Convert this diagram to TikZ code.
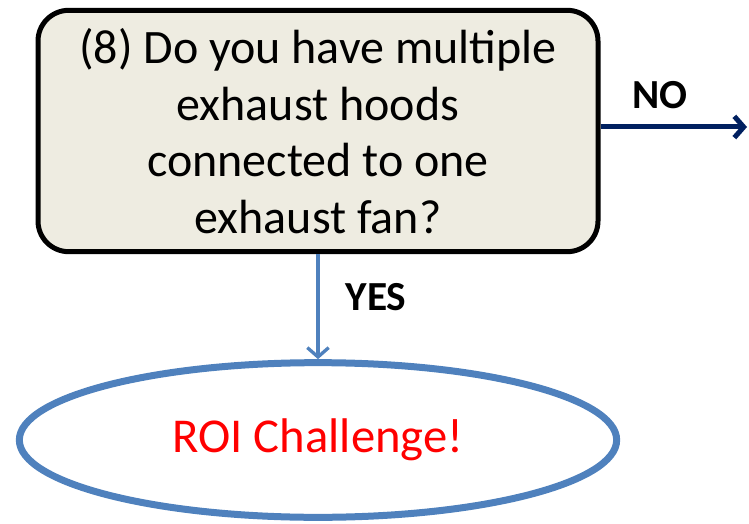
\documentclass[tikz,border=0pt]{standalone}
\usepackage{fontspec}
\setmainfont{Carlito}
\usetikzlibrary{arrows.meta,positioning,shapes.geometric}

\definecolor{qfill}{HTML}{EEECE1}
\definecolor{ovalblue}{HTML}{4F81BD}
\definecolor{navyline}{HTML}{002060}

\begin{document}
\begin{tikzpicture}[x=0.75pt,y=-0.75pt]
\tikzset{
  question/.style={draw=black,line width=3.75pt,fill=qfill,rounded corners=23pt,
    minimum width=420pt,minimum height=181pt,align=center,
    font=\fontsize{36pt}{42.5pt}\selectfont},
  outcome/.style={ellipse,draw=ovalblue,line width=5.25pt,minimum width=448pt,
    minimum height=116pt,text=red,font=\fontsize{36.5pt}{42pt}\selectfont},
  answer/.style={font=\bfseries\fontsize{31pt}{34pt}\selectfont},
}
\useasboundingbox (0,0) rectangle (749,524);

% question box and the end oval
\node[question] (q8) at (318,131) {(8) Do you have multiple\\exhaust hoods\\connected to one\\exhaust fan?};
\node[outcome] (roi) at (318,440) {ROI Challenge!};

% answers
\coordinate (noend) at (747,127);
\draw[-{Straight Barb[length=7pt,width=16pt]},navyline,line width=3.75pt]
  (q8.east |- noend) -- (noend);
\node[answer] (no) at (660,95) {NO};

\draw[-{Straight Barb[length=7pt,width=16pt]},ovalblue,line width=2.5pt]
  (q8.south) -- (roi.north);
\node[answer] (yes) at (376,297) {YES};
\end{tikzpicture}
\end{document}
